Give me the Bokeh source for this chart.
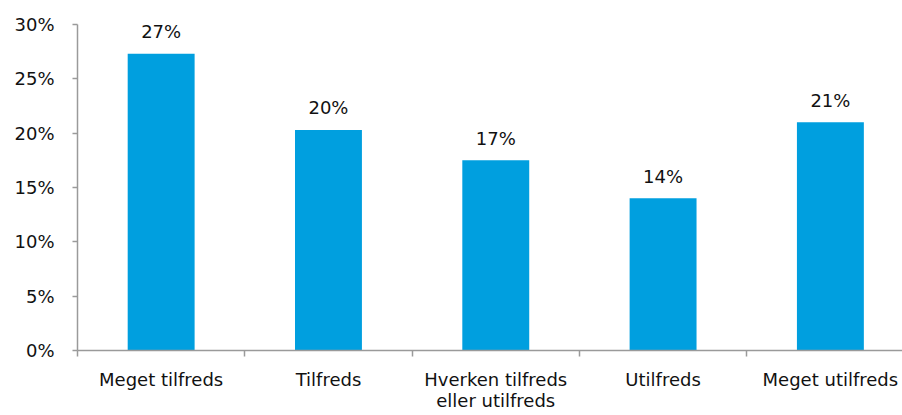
from bokeh.plotting import figure
from bokeh.models import Range1d, FixedTicker, PrintfTickFormatter, ColumnDataSource
from bokeh.core.properties import value
from bokeh.embed import file_html
from bokeh.resources import INLINE

categories = ["Meget tilfreds", "Tilfreds", "Hverken tilfreds\neller utilfreds", "Utilfreds", "Meget utilfreds"]
values = [27.3, 20.3, 17.5, 14.0, 21.0]
value_labels = ["27%", "20%", "17%", "14%", "21%"]
y_ticks = [0, 5, 10, 15, 20, 25, 30]

FONT = "DejaVu Sans"
AXIS_COLOR = "#9a9a9a"
BAR_COLOR = "#009FDF"

xs = [i + 0.5 for i in range(len(categories))]
src = ColumnDataSource(dict(x=xs, top=values, label=value_labels))

p = figure(width=902, height=415, output_backend="svg", toolbar_location=None,
           x_range=Range1d(0, 4.931), y_range=Range1d(0, 30),
           min_border_left=77, min_border_right=0, min_border_top=24, min_border_bottom=65)
p.outline_line_color = None
p.xgrid.visible = False
p.ygrid.visible = False

p.vbar(x="x", top="top", width=0.4, bottom=0, source=src, color=BAR_COLOR, line_color=None)
p.text(x="x", y="top", text="label", source=src, y_offset=-22,
       text_align="center", text_baseline="middle",
       text_font=value(FONT), text_font_size="18px", text_color="#111111")

# y axis
ya = p.yaxis[0]
ya.ticker = FixedTicker(ticks=y_ticks, minor_ticks=[])
ya.formatter = PrintfTickFormatter(format="%d%%")
ya.axis_line_color = AXIS_COLOR
ya.axis_line_width = 1.5
ya.major_tick_line_color = AXIS_COLOR
ya.major_tick_line_width = 1.5
ya.major_tick_out = 5
ya.major_tick_in = 0
ya.minor_tick_line_color = None
ya.major_label_standoff = 18
ya.major_label_text_font = FONT
ya.major_label_text_font_size = "18px"
ya.major_label_text_color = "#111111"

# x axis
xa = p.xaxis[0]
xa.ticker = FixedTicker(ticks=xs, minor_ticks=[0, 1, 2, 3, 4])
xa.major_label_overrides = {x: c for x, c in zip(xs, categories)}
xa.axis_line_color = AXIS_COLOR
xa.axis_line_width = 1.5
xa.major_tick_line_color = None
xa.minor_tick_line_color = AXIS_COLOR
xa.minor_tick_line_width = 1.5
xa.minor_tick_out = 6
xa.minor_tick_in = 0
xa.major_label_standoff = 12
xa.major_label_text_font = FONT
xa.major_label_text_font_size = "18px"
xa.major_label_text_color = "#111111"
xa.major_label_text_line_height = 1.0

open("out.html", "w").write(file_html(p, INLINE))
